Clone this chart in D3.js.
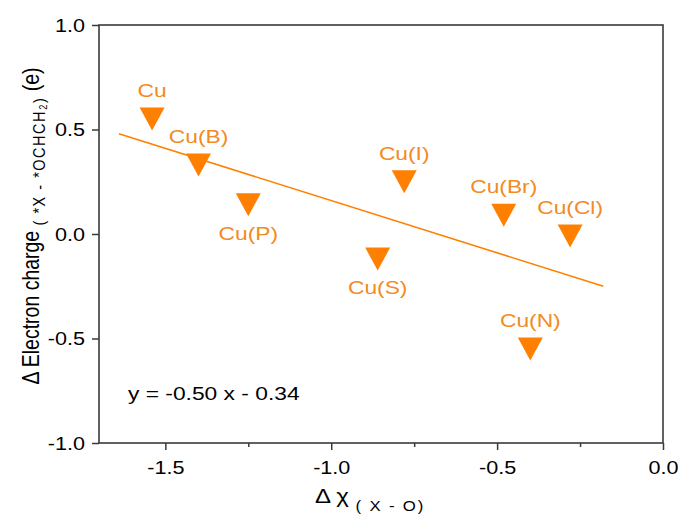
<!DOCTYPE html>
<html>
<head>
<meta charset="utf-8">
<script src="https://cdn.jsdelivr.net/npm/d3@7"></script>
<style>
  html, body { margin: 0; padding: 0; background: #fff; }
  svg { display: block; }
  text { font-family: "Liberation Sans", Arial, sans-serif; }
</style>
</head>
<body>
<svg id="chart" width="684" height="522"></svg>
<script>
// Catalyst sites and their descriptors
const sites = ["Cu", "Cu(B)", "Cu(P)", "Cu(I)", "Cu(S)", "Cu(Br)", "Cu(Cl)", "Cu(N)"];
const deltaChi = [-1.54, -1.40, -1.25, -0.78, -0.86, -0.48, -0.28, -0.40];
const deltaCharge = [0.55, 0.33, 0.14, 0.25, -0.12, 0.09, -0.01, -0.55];
// which side of the marker each name sits on
const labelSide = ["above", "above", "below", "above", "below", "above", "above", "above"];

// linear fit y = slope * x + intercept, drawn over fitRange
const fitSlope = -0.50;
const fitIntercept = -0.34;
const fitRange = [-1.64, -0.18];

const xMajorTicks = [-1.5, -1.0, -0.5, 0.0];
const xMinorTicks = [-1.25, -0.75, -0.25];
const yTicks = [-1.0, -0.5, 0.0, 0.5, 1.0];

const W = 684, H = 522;
const plot = { left: 99, right: 663, top: 25, bottom: 443 };
const orange = "#FF8000";
const labelOrange = "#F38A22";
const axisColor = "#3a3a3a";
const stretch = 1.2; // horizontal glyph widening

const svg = d3.select("#chart");
svg.append("rect").attr("width", W).attr("height", H).attr("fill", "#fff");

const x = d3.scaleLinear().domain([-1.7, 0]).range([plot.left, plot.right]);
const y = d3.scaleLinear().domain([-1, 1]).range([plot.bottom, plot.top]);

// fit line
const fitLine = d3.line().x(d => x(d)).y(d => y(fitSlope * d + fitIntercept));
svg.append("path")
  .datum(fitRange)
  .attr("d", fitLine)
  .attr("fill", "none")
  .attr("stroke", orange)
  .attr("stroke-width", 1.6);

// markers
const points = sites.map((s, i) => ({ name: s, x: deltaChi[i], y: deltaCharge[i], side: labelSide[i] }));
svg.append("g").selectAll("path")
  .data(points)
  .join("path")
  .attr("transform", d => `translate(${x(d.x)},${y(d.y)})`)
  .attr("d", "M-12.5,-11.5L12.5,-11.5L0,11.5Z")
  .attr("fill", orange);

// point names
svg.append("g").selectAll("text")
  .data(points)
  .join("text")
  .attr("transform", d => `translate(${x(d.x)},${y(d.y) + (d.side === "above" ? -22 : 35)}) scale(${stretch},1)`)
  .attr("text-anchor", "middle")
  .attr("font-size", 19)
  .attr("fill", labelOrange)
  .text(d => d.name);

// axes
const fmt = d => d.toFixed(1);
const gx = svg.append("g").attr("transform", `translate(0,${plot.bottom})`)
  .call(d3.axisBottom(x).tickValues(xMajorTicks).tickFormat(fmt).tickSize(7).tickPadding(11).tickSizeOuter(0));
const gxMinor = svg.append("g").attr("transform", `translate(0,${plot.bottom})`)
  .call(d3.axisBottom(x).tickValues(xMinorTicks).tickFormat("").tickSize(4).tickSizeOuter(0));
const gy = svg.append("g").attr("transform", `translate(${plot.left},0)`)
  .call(d3.axisLeft(y).tickValues(yTicks).tickFormat(fmt).tickSize(7).tickPadding(7).tickSizeOuter(0));

[gx, gxMinor, gy].forEach(g => {
  g.select(".domain").remove();
  g.selectAll(".tick line").attr("stroke", axisColor).attr("stroke-width", 1.5);
  g.selectAll("text").attr("font-size", 18).attr("fill", "#000")
   .attr("font-family", "'Liberation Sans', Arial, sans-serif");
});
// widen tick labels about their anchor points
gx.selectAll(".tick text").each(function () {
  const t = d3.select(this);
  const ty = +t.attr("y");
  t.attr("y", null).attr("dy", null)
   .attr("transform", `translate(0,${ty + 12.8}) scale(${stretch},1)`);
});
gy.selectAll(".tick text").each(function () {
  const t = d3.select(this);
  const tx = +t.attr("x");
  t.attr("x", null).attr("dy", null)
   .attr("transform", `translate(${tx},6.4) scale(${stretch},1)`);
});

// frame
svg.append("rect")
  .attr("x", plot.left).attr("y", plot.top)
  .attr("width", plot.right - plot.left).attr("height", plot.bottom - plot.top)
  .attr("fill", "none").attr("stroke", axisColor).attr("stroke-width", 1.6);

// regression equation
svg.append("text")
  .attr("transform", `translate(128,400) scale(${stretch},1)`)
  .attr("font-size", 19)
  .attr("fill", "#000")
  .text(`y = ${fitSlope.toFixed(2)} x - ${Math.abs(fitIntercept).toFixed(2)}`);

// x axis title
const xt = svg.append("text")
  .attr("transform", `translate(370,503) scale(${stretch},1)`)
  .attr("text-anchor", "middle")
  .attr("font-size", 20)
  .attr("fill", "#000");
xt.append("tspan").text("Δ χ ");
xt.append("tspan").attr("font-size", 14).attr("dy", 8).attr("letter-spacing", 1.5).text("( X - O)");

// y axis title (glyphs widened across the rotated baseline)
const yt = svg.append("text")
  .attr("transform", `translate(39,226) rotate(-90) scale(1,${stretch})`)
  .attr("text-anchor", "middle")
  .attr("font-size", 19.5)
  .attr("fill", "#000");
yt.append("tspan").text("Δ Electron charge ");
yt.append("tspan").attr("font-size", 14.5).attr("dy", 5).attr("letter-spacing", 1.5).text("( *X - *OCHCH₂)");
yt.append("tspan").attr("dy", -5).attr("letter-spacing", 0).text(" (e)");
</script>
</body>
</html>
